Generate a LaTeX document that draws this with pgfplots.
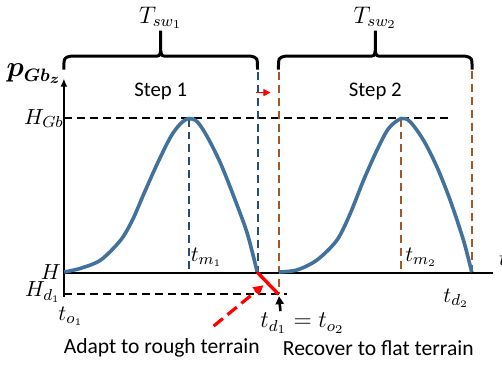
\documentclass[border=0pt]{standalone}
\usepackage{pgfplots}
\pgfplotsset{compat=1.18}
\usepackage{bm}
\usepackage{fontspec}
\setmainfont{Carlito}
\usetikzlibrary{arrows.meta}
\definecolor{curveblue}{RGB}{65,113,156}
\definecolor{dblue}{RGB}{40,78,120}
\definecolor{brown}{RGB}{160,88,40}
\begin{document}
\begin{tikzpicture}
\begin{axis}[scale only axis, width=251pt, height=181.5pt,
  xmin=0, xmax=502, ymin=0, ymax=363, y dir=reverse,
  axis lines=none, clip=false]
\path (axis cs:0,0) rectangle (axis cs:502,363);
% reference dashed lines
\addplot[black, line width=0.9pt, dash pattern=on 4pt off 2.5pt] coordinates {(63,114.5) (452,114.5)};
\addplot[black, line width=0.9pt, dash pattern=on 4pt off 2.5pt] coordinates {(63,291) (287,291)};
% verticals step 1
\addplot[dblue, line width=1pt, dash pattern=on 4pt off 2.5pt] coordinates {(188.3,115) (188.3,269)};
\addplot[dblue, line width=1pt, dash pattern=on 4pt off 2.5pt] coordinates {(257.8,68) (257.8,269)};
% verticals step 2
\addplot[brown, line width=1pt, dash pattern=on 4pt off 2.5pt] coordinates {(278.3,68) (278.3,291)};
\addplot[brown, line width=1pt, dash pattern=on 4pt off 2.5pt] coordinates {(401,115) (401,269)};
\addplot[brown, line width=1pt, dash pattern=on 4pt off 2.5pt] coordinates {(472.3,67) (472.3,275)};
% axes
\addplot[black, line width=1pt] coordinates {(63,269.3) (493,269.3)};
\addplot[black, line width=1pt, -{Latex[length=4pt,width=3.5pt]}] coordinates {(63,291) (63,75)};
\addplot[black, line width=1pt] coordinates {(63,291) (63,294)};
% curves
\addplot[curveblue, line width=1.8pt, smooth, tension=0.5] coordinates {
(63.3,268.8) (80,265) (100,256.7) (120,236.7) (131.7,216.7) (143.3,190)
(156.7,160) (170,133.3) (180,120) (188.3,115) (196.7,118.3) (206.7,133.3)
(220,160) (233.3,193.3) (246.7,230) (256.7,268.8)};
\addplot[curveblue, line width=1.8pt, smooth, tension=0.5] coordinates {
(278.3,268.8) (296.7,266.7) (316.7,256.7) (336.7,236.7) (350,210) (363.3,176.7)
(376.7,146.7) (388.3,125) (401,115) (410,118.3) (423.3,136.7) (436.7,163.3)
(450,196.7) (463.3,236.7) (471.7,269)};
% red segment
\addplot[red, line width=1.7pt] coordinates {(256.7,269) (278,291)};
% red dashed arrow
\addplot[red, line width=1.6pt, dash pattern=on 6pt off 3pt, -{Triangle[length=5pt,width=5pt]}] coordinates {(213,323) (263,282)};
% small red arrow
\addplot[red, line width=0.5pt, -{Triangle[length=3.5pt,width=3.5pt]}] coordinates {(255,89) (270,89)};
% black arrow
\addplot[black, line width=1.3pt, -{Triangle[length=4pt,width=4pt]}] coordinates {(280,308) (278.5,293)};
% braces
\draw[line width=1.5pt] (axis cs:63,66) .. controls (axis cs:63,54) .. (axis cs:70,52.5) -- (axis cs:153,52.5) .. controls (axis cs:159,52.5) .. (axis cs:160,47) -- (axis cs:160,27);
\draw[line width=1.5pt] (axis cs:160,47) .. controls (axis cs:161,52.5) .. (axis cs:167,52.5) -- (axis cs:250,52.5) .. controls (axis cs:257,54) .. (axis cs:257,66);
\draw[line width=1.5pt] (axis cs:278,66) .. controls (axis cs:278,54) .. (axis cs:285,52.5) -- (axis cs:368,52.5) .. controls (axis cs:374,52.5) .. (axis cs:375,47) -- (axis cs:375,27);
\draw[line width=1.5pt] (axis cs:375,47) .. controls (axis cs:376,52.5) .. (axis cs:382,52.5) -- (axis cs:465,52.5) .. controls (axis cs:472,54) .. (axis cs:472,66);
% labels
\node[font=\fontsize{11.5}{12}\selectfont] at (axis cs:160,14) {$T_{sw_1}$};
\node[font=\fontsize{11.5}{12}\selectfont] at (axis cs:375,14) {$T_{sw_2}$};
\node[font=\fontsize{10.4}{12}\selectfont] at (axis cs:160,88) {Step 1};
\node[font=\fontsize{10.4}{12}\selectfont] at (axis cs:375,88) {Step 2};
\node[font=\fontsize{13.5}{14}\selectfont] at (axis cs:33,70) {$\bm{p_{Gb_z}}$};
\node[font=\fontsize{11}{12}\selectfont] at (axis cs:43,115) {$H_{Gb}$};
\node[font=\fontsize{11}{12}\selectfont] at (axis cs:50,268.5) {$H$};
\node[font=\fontsize{11}{12}\selectfont] at (axis cs:42,289) {$H_{d_1}$};
\node[font=\fontsize{11}{12}\selectfont] at (axis cs:70,313) {$t_{o_1}$};
\node[font=\fontsize{11}{12}\selectfont] at (axis cs:206,254) {$t_{m_1}$};
\node[font=\fontsize{11}{12}\selectfont] at (axis cs:421,254) {$t_{m_2}$};
\node[font=\fontsize{11}{12}\selectfont] at (axis cs:456,295) {$t_{d_2}$};
\node[font=\fontsize{11.5}{12}\selectfont] at (axis cs:302,320) {$t_{d_1}=t_{o_2}$};
\node[font=\fontsize{11}{12}\selectfont, anchor=west, overlay] at (axis cs:492,256) {$t$};
\node[font=\fontsize{10.8}{12}\selectfont] at (axis cs:161,345) {Adapt to rough terrain};
\node[font=\fontsize{10.8}{12}\selectfont] at (axis cs:378,345) {Recover to flat terrain};
\end{axis}
\end{tikzpicture}
\end{document}
